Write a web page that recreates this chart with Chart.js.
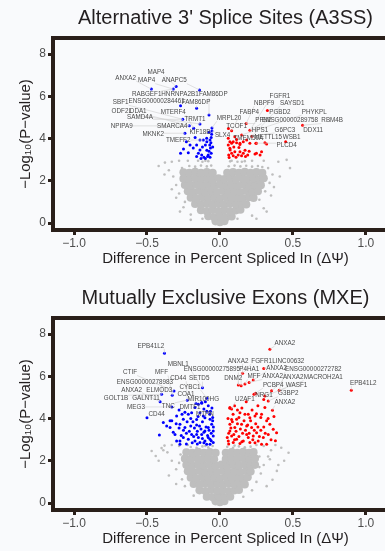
<!DOCTYPE html>
<html>
<head>
<meta charset="utf-8">
<script src="https://cdn.jsdelivr.net/npm/chart.js@4.4.0/dist/chart.umd.min.js"></script>
<style>
  html, body { margin:0; padding:0; background:#f9fafc; width:385px; height:551px; overflow:hidden; }
  .panel { position:absolute; left:0; width:410px; }
  #p1 { top:0; height:280px; }
  #p2 { top:280px; height:271px; }
</style>
</head>
<body>
<div class="panel" id="p1"><canvas id="a3ss" width="410" height="280"></canvas></div>
<div class="panel" id="p2"><canvas id="mxe" width="410" height="271"></canvas></div>
<script>
// axis ticks
const xTicks = [-1.0, -0.5, 0.0, 0.5, 1.0];
const yTicks = [0, 2, 4, 6, 8];

// ---------- A3SS ----------
const a3ssUp = [
  [0.325,5.33],[0.18,4.71],[0.566,4.63],[0.058,4.48],[0.205,4.39],[0.08,4.37],[0.22,4.11],[0.149,4.17],
  [0.45,3.85],[0.246,3.78],[0.068,3.85],
  [0.057,3.70],[0.08,3.78],[0.091,3.85],[0.114,3.80],[0.137,3.72],[0.16,3.85],[0.183,3.93],[0.205,3.78],
  [0.07,3.46],[0.08,3.30],[0.102,3.38],[0.125,3.22],[0.137,3.38],[0.16,3.30],[0.172,3.44],[0.06,3.22],
  [0.091,3.18],[0.148,3.18],[0.25,3.30],[0.285,3.38],[0.275,3.22],[0.25,3.78],[0.308,3.80],[0.102,4.09],
  [0.114,3.95],[0.063,3.10],[0.11,3.12],[0.19,3.22],[0.2,3.40],[0.175,3.15],[0.13,3.58],[0.095,3.60],
  [0.068,3.54],[0.24,3.27],[0.32,3.74],[0.057,4.01],[0.137,3.78]
];
const a3ssDown = [
  [-0.47,6.34],[-0.32,6.34],[-0.30,6.46],[-0.14,6.30],[-0.27,5.55],[-0.16,5.44],[-0.075,5.12],[-0.255,4.91],
  [-0.137,4.69],[-0.21,4.60],[-0.18,4.49],[-0.055,4.50],[-0.24,4.25],[-0.055,4.36],
  [-0.057,4.20],[-0.06,4.05],[-0.068,3.93],[-0.062,3.80],[-0.07,3.70],[-0.065,3.55],[-0.075,3.40],[-0.06,3.30],
  [-0.08,3.22],[-0.068,3.12],[-0.091,4.01],[-0.09,3.85],[-0.1,3.70],[-0.114,3.93],[-0.137,3.93],[-0.16,3.70],
  [-0.205,3.70],[-0.183,3.55],[-0.217,3.33],[-0.27,3.30],[-0.125,3.22],[-0.11,3.11],[-0.1,3.05],[-0.137,3.46],
  [-0.148,3.30],[-0.16,3.15],[-0.12,3.60],[-0.09,3.45],[-0.085,3.15],[-0.23,3.85],[-0.25,3.50],[-0.17,4.05],
  [-0.075,4.3],[-0.05,3.6],[-0.13,3.05]
];
const a3ssCore = [
  [-0.03,0.08],[0.0,0.04],[0.03,0.09],
  [-0.08,0.32],[-0.04,0.27],[0.0,0.3],[0.04,0.26],[0.08,0.31],
  [-0.13,0.61],[-0.09,0.56],[-0.05,0.62],[-0.01,0.57],[0.03,0.61],[0.07,0.56],[0.11,0.6],[0.14,0.63],
  [-0.17,0.9],[-0.13,0.87],[-0.09,0.92],[-0.05,0.88],[-0.01,0.91],[0.03,0.87],[0.07,0.92],[0.11,0.88],[0.15,0.91],[0.18,0.88],
  [-0.2,1.2],[-0.16,1.17],[-0.12,1.22],[-0.08,1.18],[-0.04,1.21],[0.0,1.17],[0.04,1.22],[0.08,1.18],[0.12,1.21],[0.16,1.17],[0.2,1.22],[0.23,1.19],
  [-0.22,1.5],[-0.18,1.47],[-0.14,1.52],[-0.1,1.48],[-0.06,1.51],[-0.02,1.47],[0.02,1.52],[0.06,1.48],[0.1,1.51],[0.14,1.47],[0.18,1.52],[0.22,1.48],[0.26,1.51],
  [-0.24,1.8],[-0.2,1.77],[-0.16,1.82],[-0.12,1.78],[-0.08,1.81],[-0.04,1.77],[0.0,1.82],[0.04,1.78],[0.08,1.81],[0.12,1.77],[0.16,1.82],[0.2,1.78],[0.24,1.81],[0.28,1.79],
  [-0.25,2.1],[-0.21,2.07],[-0.17,2.12],[-0.13,2.08],[-0.09,2.11],[-0.05,2.07],[-0.01,2.12],[0.03,2.08],[0.07,2.11],[0.11,2.07],[0.15,2.12],[0.19,2.08],[0.23,2.11],[0.27,2.07],[0.3,2.12],
  [-0.25,2.4],[-0.21,2.37],[-0.17,2.42],[-0.13,2.38],[-0.09,2.41],[-0.05,2.37],[0.05,2.38],[0.09,2.41],[0.13,2.37],[0.17,2.42],[0.21,2.38],[0.25,2.41],[0.29,2.37]
];
const a3ssSparse = [
  [-0.21,2.7],[-0.17,2.67],[-0.13,2.72],[-0.09,2.68],[-0.06,2.72],[0.06,2.69],[0.1,2.72],[0.14,2.68],[0.18,2.71],[0.22,2.67],[0.26,2.7],
  [-0.12,2.9],[-0.08,2.93],[0.07,2.92],[0.12,2.9],[0.17,2.93],
  [-0.377,2.86],[-0.33,2.9],[0.40,2.9],[0.457,2.99],[-0.274,0.54],[-0.25,0.75],[0.32,0.54],[0.30,0.7],
  [-0.35,2.5],[-0.32,2.2],[-0.3,1.8],[-0.28,1.4],[-0.24,1.0],[0.33,2.6],[0.36,2.3],[0.34,1.9],[0.31,1.5],
  [0.27,1.1],[-0.2,0.4],[0.22,0.35],[-0.12,0.2],[0.12,0.2],[-0.28,2.95],[-0.22,2.95],[0.3,2.95],[0.22,2.95],
  [-0.15,2.95],[0.15,2.9],[-0.42,2.7],[0.48,2.6],[-0.38,2.3],[0.41,2.2],[-0.3,1.2],[0.35,1.3],[-0.2,0.15],
  [0.25,0.2],[0.37,1.7],[-0.33,1.6],[-0.26,2.6],[0.29,2.65],[-0.1,2.95],[0.08,2.95]
];
const a3ssLabelNames = [
  'MAP4','ANXA2','MAP4','ANAPC5','RABGEF1','HNRNPA2B1','FAM86DP','SBF1','ENSG00000284461','FAM86DP',
  'ODF2L','DDA1','MTERF4','SAMD4A','TRMT1','NPIPA9','SMARCA4','MKNK2','KIF18B','TMEFF2',
  'MRPL20','SLX4','TCOF1','FGFR1','NBPF9','SAYSD1','FABP4','PGBD2','PHYKPL','PFN2',
  'ENSG00000289758','RBM4B','HPS1','G6PC3','DDX11','TMEM50A','METTL15','WSB1','PLCD4'
];
const a3ssLabelAt = [
  [-0.438,7.12],[-0.646,6.87],[-0.502,6.74],[-0.313,6.74],[-0.502,6.11],[-0.274,6.11],[-0.046,6.08],[-0.68,5.72],[-0.434,5.75],[-0.164,5.70],
  [-0.673,5.27],[-0.56,5.27],[-0.32,5.25],[-0.548,4.99],[-0.171,4.93],[-0.673,4.56],[-0.327,4.60],[-0.457,4.20],[-0.137,4.30],[-0.286,3.90],
  [0.062,4.96],[0.018,4.16],[0.114,4.56],[0.411,5.99],[0.303,5.67],[0.495,5.67],[0.201,5.23],[0.411,5.25],[0.646,5.25],[0.297,4.85],
  [0.479,4.85],[0.769,4.85],[0.274,4.41],[0.445,4.41],[0.639,4.41],[0.194,4.01],[0.331,4.06],[0.491,4.06],[0.457,3.66]
];
const a3ssLabelTo = [
  [-0.30,6.46],[-0.47,6.34],[-0.32,6.34],[-0.14,6.30],[-0.32,6.34],[-0.14,6.30],[-0.075,5.12],[-0.255,4.91],[-0.27,5.55],[-0.16,5.44],
  [-0.137,4.69],[-0.21,4.60],[-0.18,4.49],[-0.255,4.91],[-0.137,4.69],[-0.21,4.60],[-0.21,4.60],[-0.24,4.25],[-0.055,4.36],[-0.114,3.93],
  [-0.055,4.50],[-0.055,4.36],[0.058,4.48],[0.205,4.39],[0.18,4.71],[0.22,4.11],[0.08,4.37],[0.325,5.33],[0.149,4.17],[0.18,4.71],
  [0.205,4.39],[0.566,4.63],[0.205,4.39],[0.22,4.11],[0.566,4.63],[0.149,4.17],[0.22,4.11],[0.45,3.85],[0.246,3.78]
];

// ---------- MXE ----------
const mxeUp = [
  [0.342,7.28],[0.90,5.34],[0.30,6.37],[0.155,6.14],[0.126,5.59],[0.145,5.55],[0.171,5.63],[0.20,5.71],
  [0.228,5.82],[0.406,5.34],[0.354,5.31],[0.233,5.15],[0.245,5.20],[0.308,5.07],[0.331,4.83],[0.36,4.39],
  [0.068,4.49],[0.08,4.45],[0.194,4.20],[0.25,4.23],[0.308,4.52],
  [0.068,4.52],[0.137,4.28],[0.171,4.20],[0.205,4.04],[0.24,4.12],[0.285,4.20],[0.32,3.89],[0.342,3.73],
  [0.388,3.33],[0.365,3.49],[0.331,3.25],[0.297,3.10],[0.251,3.33],[0.217,3.57],[0.183,3.65],[0.148,3.73],
  [0.102,3.57],[0.068,3.41],[0.08,3.17],[0.114,3.02],[0.16,2.94],[0.194,3.10],[0.228,3.17],[0.262,2.94],
  [0.285,2.78],[0.091,2.86],[0.137,2.82],[0.057,2.94],[0.068,3.73],[0.114,3.97],[0.183,3.25],[0.205,2.86],
  [0.32,2.78],[0.05,3.1],[0.06,3.3],[0.075,3.55],[0.085,3.85],[0.095,3.25],[0.1,3.0],[0.11,3.4],[0.12,3.75],
  [0.13,3.15],[0.14,3.5],[0.15,2.9],[0.155,3.3],[0.165,3.9],[0.175,3.45],[0.19,3.7],[0.2,3.3],[0.21,3.9],
  [0.225,3.0],[0.235,3.45],[0.245,3.75],[0.26,3.6],[0.27,3.15],[0.28,3.45],[0.3,3.6],[0.31,3.3],[0.33,4.0],
  [0.35,3.0],[0.37,4.1],[0.055,4.0],[0.09,4.2],[0.1,4.6],[0.12,4.4],[0.15,4.5],[0.18,4.8],[0.22,4.4],
  [0.26,4.6],[0.3,4.9],[0.28,4.05],[0.38,2.95],[0.06,2.8],[0.08,3.95],[0.24,2.85],[0.13,4.05]
];
const mxeDown = [
  [-0.38,7.09],[-0.12,5.46],[-0.40,5.15],[-0.327,5.10],[-0.315,5.30],[-0.41,4.80],[-0.224,4.87],[-0.09,4.96],
  [-0.164,4.71],[-0.125,4.72],[-0.33,4.55],[-0.5,4.04],[-0.415,3.22],[-0.33,3.89],[-0.274,2.78],
  [-0.342,3.89],[-0.297,4.12],[-0.274,3.73],[-0.251,3.97],[-0.240,3.57],[-0.217,4.20],[-0.194,4.28],[-0.171,4.52],
  [-0.148,4.68],[-0.125,4.76],[-0.137,4.28],[-0.114,4.12],[-0.103,4.04],[-0.068,3.97],[-0.057,3.73],[-0.08,3.57],
  [-0.103,3.41],[-0.125,3.25],[-0.148,3.10],[-0.171,2.94],[-0.137,2.86],[-0.103,2.94],[-0.068,3.02],[-0.046,3.17],
  [-0.046,3.41],[-0.046,2.86],[-0.068,2.78],[-0.091,2.78],[-0.194,3.25],[-0.217,3.02],[-0.251,3.10],[-0.274,2.94],
  [-0.297,2.94],[-0.308,3.25],[-0.342,3.57],[-0.365,3.65],[-0.388,3.81],
  [-0.06,3.3],[-0.075,3.45],[-0.085,3.2],[-0.095,3.6],[-0.11,3.35],[-0.12,3.05],[-0.13,3.5],[-0.155,3.4],
  [-0.16,3.7],[-0.175,3.55],[-0.185,3.85],[-0.2,3.65],[-0.21,3.4],[-0.23,3.3],[-0.25,3.45],[-0.265,3.2],
  [-0.28,3.55],[-0.3,3.75],[-0.32,3.35],[-0.05,3.9],[-0.07,4.2],[-0.09,4.35],[-0.11,4.45],[-0.15,4.1],
  [-0.16,3.95],[-0.2,4.0],[-0.225,3.85],[-0.24,4.3],[-0.26,4.2],[-0.28,4.4],[-0.055,4.5],[-0.08,4.6],
  [-0.1,4.8],[-0.06,2.95],[-0.08,3.1],[-0.11,2.85],[-0.155,2.8],[-0.19,2.85],[-0.23,2.8],[-0.045,3.6],
  [-0.05,4.05],[-0.065,4.35],[-0.12,3.85],[-0.14,3.65],[-0.18,3.15],[-0.16,3.25]
];
const mxeCore = [
  [-0.03,0.08],[0.0,0.04],[0.03,0.09],
  [-0.09,0.3],[-0.05,0.27],[-0.01,0.31],[0.03,0.27],[0.07,0.3],
  [-0.14,0.6],[-0.1,0.57],[-0.06,0.62],[-0.02,0.58],[0.02,0.61],[0.06,0.57],[0.1,0.6],[0.13,0.62],
  [-0.18,0.9],[-0.14,0.87],[-0.1,0.92],[-0.06,0.88],[-0.02,0.91],[0.02,0.87],[0.06,0.92],[0.1,0.88],[0.14,0.91],[0.17,0.88],
  [-0.2,1.2],[-0.16,1.17],[-0.12,1.22],[-0.08,1.18],[-0.04,1.21],[0.0,1.17],[0.04,1.22],[0.08,1.18],[0.12,1.21],[0.16,1.17],[0.19,1.22],
  [-0.22,1.5],[-0.18,1.47],[-0.14,1.52],[-0.1,1.48],[-0.06,1.51],[-0.02,1.47],[0.02,1.52],[0.06,1.48],[0.1,1.51],[0.14,1.47],[0.18,1.52],[0.21,1.49],
  [-0.23,1.8],[-0.19,1.77],[-0.15,1.82],[-0.11,1.78],[-0.07,1.81],[-0.03,1.77],[0.01,1.82],[0.05,1.78],[0.09,1.81],[0.13,1.77],[0.17,1.82],[0.21,1.78],[0.24,1.81],
  [-0.24,2.1],[-0.2,2.07],[-0.16,2.12],[-0.12,2.08],[-0.08,2.11],[-0.04,2.07],[0.04,2.08],[0.08,2.11],[0.12,2.07],[0.16,2.12],[0.2,2.08],[0.24,2.11],
  [-0.23,2.4],[-0.19,2.37],[-0.15,2.42],[-0.11,2.38],[-0.07,2.41],[-0.03,2.37],[0.04,2.38],[0.08,2.41],[0.12,2.37],[0.16,2.42],[0.2,2.38],[0.23,2.41]
];
const mxeSparse = [
  [-0.2,2.65],[-0.16,2.62],[-0.12,2.68],[-0.08,2.64],[-0.05,2.7],[0.05,2.66],[0.09,2.62],[0.13,2.68],[0.17,2.64],[0.21,2.67],
  [-0.44,2.23],[-0.26,1.12],[0.47,2.38],[0.39,1.52],[0.42,2.62],[-0.40,2.6],[-0.36,2.4],[-0.33,2.0],[-0.3,1.6],
  [-0.28,2.7],[-0.33,2.75],[-0.38,2.72],[0.3,2.7],[0.35,2.5],[0.33,2.2],[0.3,1.8],[0.28,1.4],[0.25,1.0],
  [-0.24,0.8],[0.22,0.6],[-0.18,0.35],[0.16,0.3],[-0.27,2.3],[0.27,2.2],[0.4,1.8],[-0.35,1.3],[-0.3,0.9],
  [0.36,1.1],[0.32,0.8],[-0.42,2.0],[0.44,2.0],[0.38,2.75],[-0.22,2.75],[0.25,2.75],[-0.1,2.7],[0.1,2.72],
  [-0.28,1.9],[0.27,1.7],[-0.468,2.46],[-0.388,2.5],[0.342,2.07]
];
const mxeLabelNames = [
  'EPB41L2','ANXA2','MBNL1','ANXA2','FGFR1','LINC00632','ENSG00000275895','CTIF','MFF','CD44',
  'SETD5','P4HA1','ANXA2','ENSG00000272782','DNM2','MFF','ANXA2','ANXA2','MACROH2A1','EPB41L2',
  'ENSG00000278983','CYBC1','PCBP4','WASF1','ANXA2','ELMOD3','COA1','G3BP2','NRG1','U2AF1',
  'GOLT1B','GALNT11','MIR100HG','ANXA2','MEG3','TNC','DMTF1','CD44','MTPN'
];
const mxeLabelAt = [
  [-0.473,7.44],[0.445,7.57],[-0.286,6.57],[0.125,6.73],[0.286,6.73],[0.468,6.73],[-0.055,6.33],[-0.616,6.18],[-0.40,6.18],[-0.286,5.91],
  [-0.142,5.89],[0.201,6.34],[0.388,6.37],[0.639,6.34],[0.091,5.91],[0.233,5.99],[0.361,5.99],[0.502,5.94],[0.708,5.94],[0.982,5.69],
  [-0.514,5.73],[-0.205,5.50],[0.365,5.58],[0.525,5.58],[-0.605,5.36],[-0.416,5.36],[-0.233,5.15],[0.468,5.18],[0.301,5.10],[0.171,4.91],
  [-0.712,4.96],[-0.507,4.96],[-0.114,4.91],[0.445,4.75],[-0.575,4.55],[-0.354,4.60],[-0.205,4.55],[-0.434,4.20],[-0.103,4.20]
];
const mxeLabelTo = [
  [-0.38,7.09],[0.342,7.28],[-0.12,5.46],[0.155,6.14],[0.155,6.14],[0.30,6.37],[0.126,5.59],[-0.315,5.30],[-0.327,5.10],[-0.224,4.87],
  [-0.12,5.46],[0.145,5.55],[0.228,5.82],[0.406,5.34],[0.126,5.59],[0.171,5.63],[0.20,5.71],[0.354,5.31],[0.406,5.34],[0.90,5.34],
  [-0.40,5.15],[-0.09,4.96],[0.233,5.15],[0.308,5.07],[-0.41,4.80],[-0.327,5.10],[-0.164,4.71],[0.331,4.83],[0.245,5.20],[0.08,4.45],
  [-0.40,5.15],[-0.41,4.80],[-0.125,4.72],[0.36,4.39],[-0.33,4.55],[-0.224,4.87],[-0.164,4.71],[-0.5,4.04],[-0.09,4.35]
];

const toPts = arr => arr.map(p => ({x: p[0], y: p[1]}));
const ink = '#2a1f1a';

// gene labels with thin leader lines
const geneLabels = {
  id: 'geneLabels',
  afterDatasetsDraw(chart, args, opts) {
    const {ctx, scales: {x, y}} = chart;
    ctx.save();
    ctx.font = '6.3px "Liberation Sans", Arial, sans-serif';
    ctx.textAlign = 'center';
    ctx.textBaseline = 'middle';
    opts.names.forEach((name, i) => {
      const tx = x.getPixelForValue(opts.at[i][0]), ty = y.getPixelForValue(opts.at[i][1]);
      const px = x.getPixelForValue(opts.to[i][0]), py = y.getPixelForValue(opts.to[i][1]);
      const w = ctx.measureText(name).width;
      const sx = Math.min(Math.max(px, tx - w / 2), tx + w / 2);
      const sy = Math.min(Math.max(py, ty - 3), ty + 3);
      if (Math.hypot(px - sx, py - sy) > 2) {
        ctx.strokeStyle = '#cfcfcf';
        ctx.lineWidth = 0.6;
        ctx.beginPath();
        ctx.moveTo(sx, sy);
        ctx.lineTo(px, py);
        ctx.stroke();
      }
    });
    ctx.fillStyle = '#4a4a4a';
    opts.names.forEach((name, i) => {
      ctx.fillText(name, x.getPixelForValue(opts.at[i][0]), y.getPixelForValue(opts.at[i][1]));
    });
    ctx.restore();
  }
};

// top line of the panel box
const boxTop = {
  id: 'boxTop',
  afterDraw(chart) {
    const {ctx, chartArea: a} = chart;
    ctx.save();
    ctx.strokeStyle = ink;
    ctx.lineWidth = 4;
    ctx.beginPath();
    ctx.moveTo(a.left - 2, a.top);
    ctx.lineTo(a.right, a.top);
    ctx.lineTo(a.right, a.bottom);
    ctx.stroke();
    ctx.restore();
  }
};

function makePanel(id, title, up, down, core, sparse, names, at, to, padBottom) {
  new Chart(document.getElementById(id), {
    type: 'scatter',
    data: {
      datasets: [
        { data: toPts(up), backgroundColor: '#ff0000', pointRadius: 1.5, borderWidth: 0 },
        { data: toPts(down), backgroundColor: '#0000ff', pointRadius: 1.5, borderWidth: 0 },
        { data: toPts(sparse), backgroundColor: '#bebebe', pointRadius: 1.3, borderWidth: 0 },
        { data: toPts(core), backgroundColor: '#bebebe', pointRadius: 4.1, borderWidth: 0 }
      ]
    },
    options: {
      responsive: false,
      animation: false,
      devicePixelRatio: 1,
      layout: { padding: { left: 0, right: 12, top: 0, bottom: padBottom } },
      plugins: {
        legend: { display: false },
        tooltip: { enabled: false },
        title: {
          display: true,
          text: title,
          fullSize: false,
          color: '#231f20',
          font: { family: '"Liberation Sans", Arial, sans-serif', size: 20, weight: 'normal' },
          padding: { top: 6, bottom: 8 }
        },
        geneLabels: { names: names, at: at, to: to }
      },
      scales: {
        x: {
          type: 'linear',
          min: -1.144, max: 1.22,
          afterBuildTicks: s => { s.ticks = xTicks.map(v => ({value: v})); },
          afterFit: s => { s.height = 41; },
          grid: { drawOnChartArea: false, tickLength: 5, tickWidth: 3, tickColor: ink },
          border: { display: true, color: ink, width: 4 },
          ticks: {
            color: '#4d4d4d', padding: 1,
            font: { family: '"Liberation Sans", Arial, sans-serif', size: 12 },
            callback: v => (v < 0 ? '\u2212' : '') + Math.abs(v).toFixed(1)
          },
          title: {
            display: true, text: 'Difference in Percent Spliced In (\u0394\u03a8)',
            color: '#231f20', padding: { top: 0, bottom: 3 },
            font: { family: '"Liberation Sans", Arial, sans-serif', size: 15 }
          }
        },
        y: {
          min: -0.33, max: 8.76,
          afterBuildTicks: s => { s.ticks = yTicks.map(v => ({value: v})); },
          afterFit: s => { s.width = 53; },
          grid: { drawOnChartArea: false, tickLength: 5, tickWidth: 3, tickColor: ink },
          border: { display: true, color: ink, width: 4 },
          ticks: {
            color: '#4d4d4d', padding: 2,
            font: { family: '"Liberation Sans", Arial, sans-serif', size: 12 }
          },
          title: {
            display: true, text: '\u2212Log\u2081\u2080(P\u2212value)',
            color: '#231f20', padding: { top: 17, bottom: 0 },
            font: { family: '"Liberation Sans", Arial, sans-serif', size: 15 }
          }
        }
      }
    },
    plugins: [geneLabels, boxTop]
  });
}

makePanel('a3ss', "Alternative 3' Splice Sites (A3SS)", a3ssUp, a3ssDown, a3ssCore, a3ssSparse,
  a3ssLabelNames, a3ssLabelAt, a3ssLabelTo, 9);
makePanel('mxe', 'Mutually Exclusive Exons (MXE)', mxeUp, mxeDown, mxeCore, mxeSparse,
  mxeLabelNames, mxeLabelAt, mxeLabelTo, 0);
</script>
</body>
</html>
